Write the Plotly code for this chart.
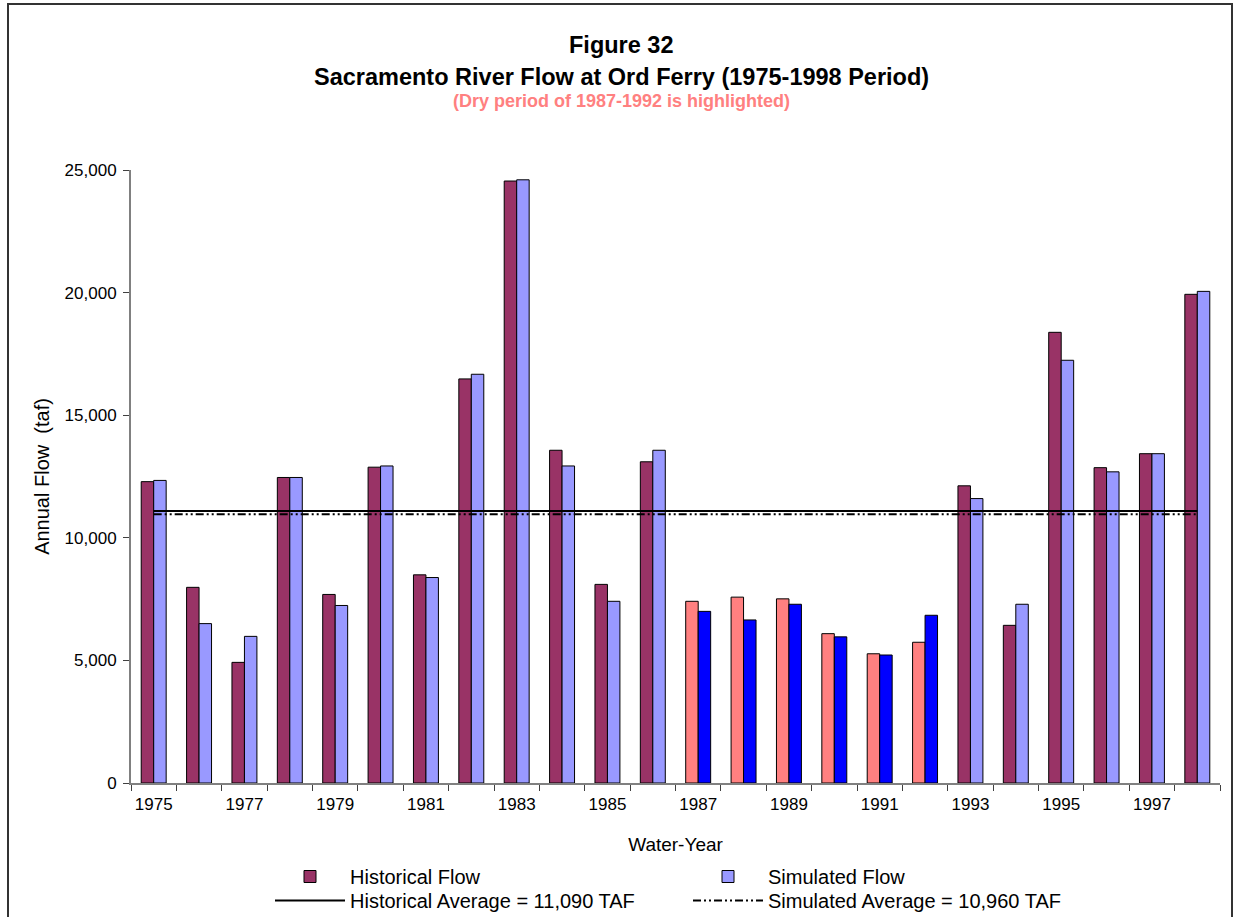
import plotly.graph_objects as go

# ---------------- data ----------------
years = [str(y) for y in range(1975, 1999)]
historical_flow = [12290, 7980, 4920, 12460, 7690, 12880, 8490, 16480, 24550, 13570, 8100, 13100,
                   7410, 7580, 7510, 6090, 5270, 5740, 12120, 6430, 18380, 12860, 13430, 19930]
simulated_flow = [12340, 6500, 5980, 12460, 7240, 12930, 8380, 16670, 24600, 12930, 7410, 13570,
                  7000, 6650, 7290, 5960, 5220, 6840, 11600, 7290, 17240, 12690, 13430, 20050]
dry_years = ["1987", "1988", "1989", "1990", "1991", "1992"]
historical_avg = 11090
simulated_avg = 10960
tick_labels = [y if i % 2 == 0 else "" for i, y in enumerate(years)]

HIST_COLOR, HIST_DRY = "#993366", "#FF8080"
SIM_COLOR, SIM_DRY = "#9999FF", "#0000FF"

hist_colors = [HIST_DRY if y in dry_years else HIST_COLOR for y in years]
sim_colors = [SIM_DRY if y in dry_years else SIM_COLOR for y in years]

FONT = "Arial, 'Liberation Sans', sans-serif"

W, H = 1235, 917
ML, MR, MT, MB = 131, 15, 170, 134
PW, PH = W - ML - MR, H - MT - MB


def px_x(x):
    return (x - ML) / PW


def px_y(y):
    return (H - MB - y) / PH


fig = go.Figure()
fig.add_trace(go.Bar(
    x=years, y=historical_flow, name="Historical Flow", legend="legend",
    marker=dict(color=hist_colors, line=dict(color="black", width=1)),
))
fig.add_trace(go.Bar(
    x=years, y=simulated_flow, name="Simulated Flow", legend="legend",
    marker=dict(color=sim_colors, line=dict(color="black", width=1)),
))
fig.add_trace(go.Scatter(
    x=years, y=[historical_avg] * len(years), mode="lines", legend="legend2",
    name="Historical Average = 11,090 TAF",
    line=dict(color="black", width=2),
))
fig.add_trace(go.Scatter(
    x=years, y=[simulated_avg] * len(years), mode="lines", legend="legend2",
    name="Simulated Average = 10,960 TAF",
    line=dict(color="black", width=2, dash="8px,3px,2px,3px,2px,3px"),
))

legend_common = dict(
    orientation="h", x=px_x(270), xanchor="left", yanchor="top",
    font=dict(size=20, family=FONT), entrywidth=333, traceorder="normal",
    bgcolor="rgba(0,0,0,0)", itemwidth=70,
)

fig.update_layout(
    width=W, height=H,
    margin=dict(l=ML, r=MR, t=MT, b=MB, pad=0, autoexpand=False),
    paper_bgcolor="white", plot_bgcolor="white",
    font=dict(family=FONT, color="black", size=17),
    barmode="group", bargap=0.45, bargroupgap=0,
    showlegend=True,
    legend=dict(legend_common, y=px_y(857)),
    legend2=dict(legend_common, y=px_y(881)),
    xaxis=dict(
        type="category", tickmode="array", tickvals=years, ticktext=tick_labels,
        tickson="boundaries", ticks="outside", ticklen=6, tickcolor="#404040", tickwidth=1,
        showline=True, linecolor="#808080", linewidth=2, showgrid=False, zeroline=False,
        tickfont=dict(size=17), tickangle=0, ticklabelstandoff=5,
        title=dict(text="Water-Year", font=dict(size=19), standoff=24),
        range=[-0.5, 23.5],
    ),
    yaxis=dict(
        range=[0, 25000], tickvals=[0, 5000, 10000, 15000, 20000, 25000], tickformat=",",
        ticks="outside", ticklen=6, tickcolor="#404040", tickwidth=1,
        showline=True, linecolor="#808080", linewidth=2, showgrid=False, zeroline=False,
        tickfont=dict(size=17), ticklabelstandoff=3,
        title=dict(text="Annual Flow\u00a0 (taf)", font=dict(size=20), standoff=10),
    ),
    annotations=[
        dict(text="<b>Figure 32</b>", xref="paper", yref="paper", x=px_x(621), y=px_y(45),
             xanchor="center", yanchor="middle", showarrow=False, font=dict(size=23.5)),
        dict(text="<b>Sacramento River Flow at Ord Ferry (1975-1998 Period)</b>", xref="paper",
             yref="paper", x=px_x(621), y=px_y(77), xanchor="center", yanchor="middle",
             showarrow=False, font=dict(size=23.5)),
        dict(text="<b>(Dry period of 1987-1992 is highlighted)</b>", xref="paper", yref="paper",
             x=px_x(621), y=px_y(101), xanchor="center", yanchor="middle", showarrow=False,
             font=dict(size=18, color="#FF8080")),
    ],
    shapes=[
        dict(type="rect", xref="paper", yref="paper", x0=px_x(8), x1=px_x(1232),
             y0=px_y(4), y1=px_y(940), line=dict(color="#333333", width=2), layer="below"),
    ],
)

fig.write_html("out.html", config={"displayModeBar": False},
               post_script="document.body.style.margin='0';document.body.style.overflow='hidden';")
